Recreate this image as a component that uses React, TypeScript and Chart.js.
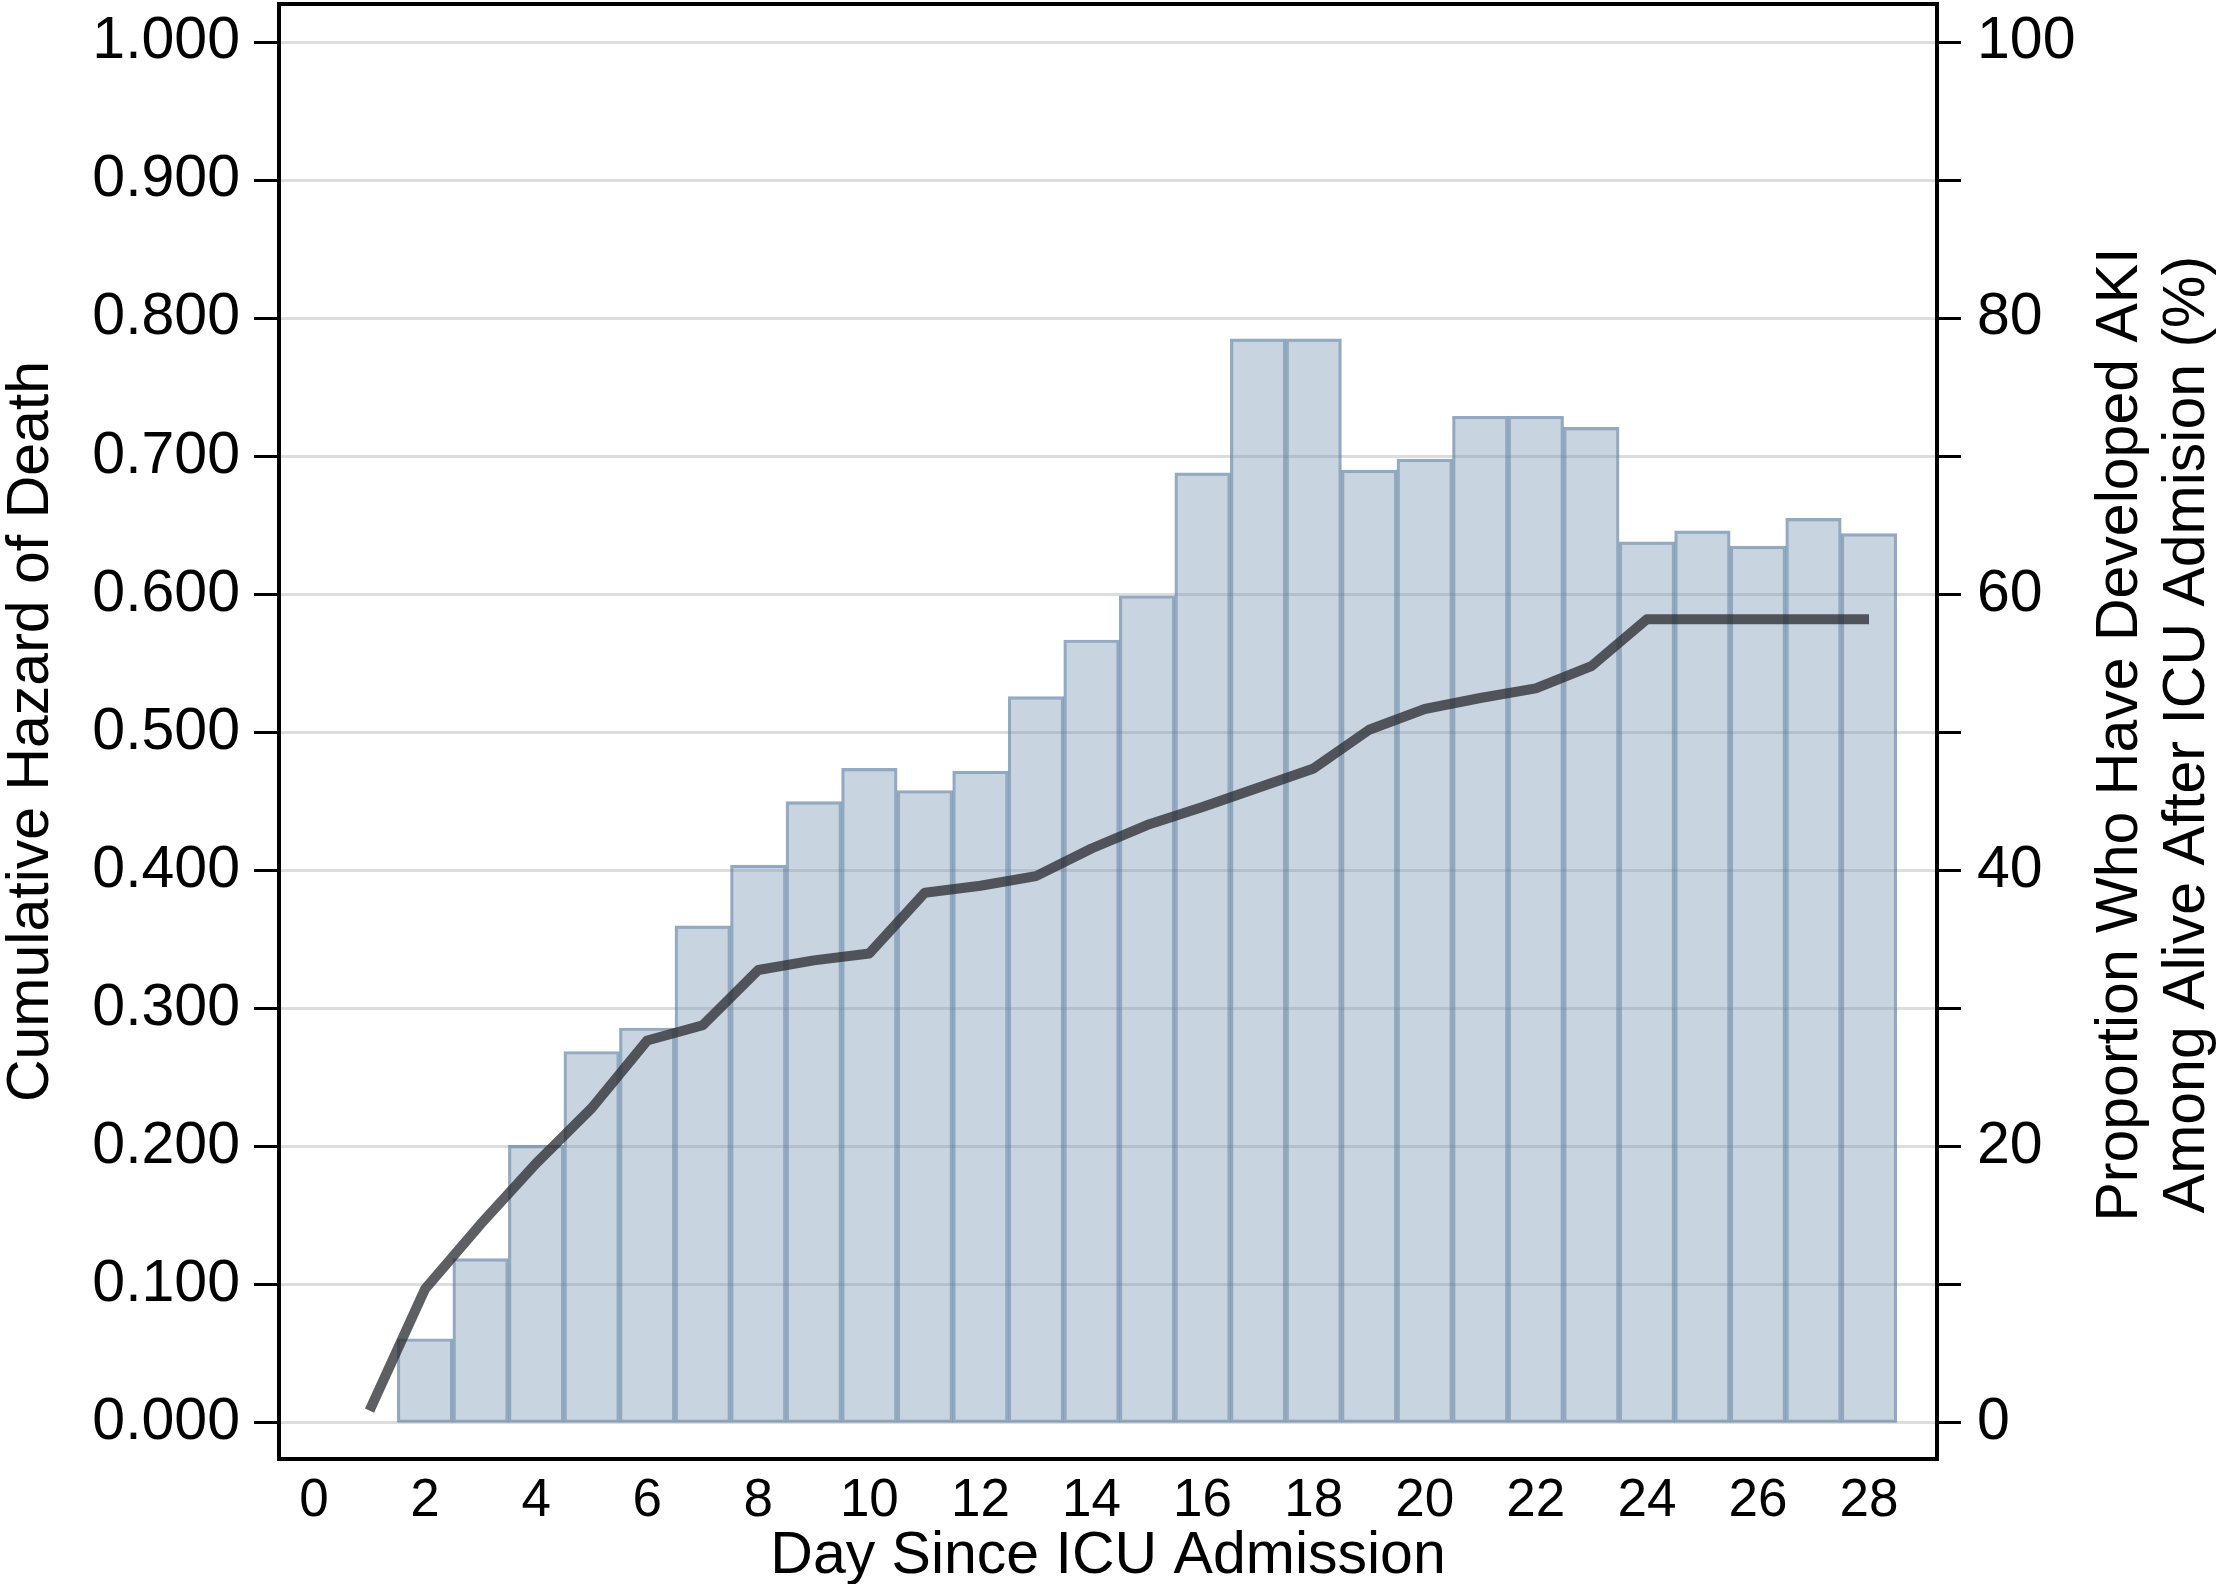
import React, { useEffect, useRef } from 'react';
import { Chart, registerables } from 'chart.js';

Chart.register(...registerables);

// ---- Data ----
const LINE_DAYS = [1, 2, 3, 4, 5, 6, 7, 8, 9, 10, 11, 12, 13, 14, 15, 16, 17, 18, 19, 20, 21, 22, 23, 24, 25, 26, 27, 28];
const CUM_HAZARD = [0.009, 0.097, 0.144, 0.188, 0.228, 0.277, 0.288, 0.328, 0.335, 0.340, 0.384, 0.389, 0.396, 0.416, 0.433, 0.446, 0.460, 0.474, 0.502, 0.517, 0.525, 0.532, 0.548, 0.582, 0.582, 0.582, 0.582, 0.582];

const BAR_DAYS = [2, 3, 4, 5, 6, 7, 8, 9, 10, 11, 12, 13, 14, 15, 16, 17, 18, 19, 20, 21, 22, 23, 24, 25, 26, 27, 28];
const AKI_PCT = [6.1, 11.9, 20.1, 26.9, 28.6, 36.0, 40.4, 45.0, 47.4, 45.8, 47.2, 52.6, 56.7, 59.9, 68.8, 78.5, 78.5, 69.0, 69.8, 72.9, 72.9, 72.1, 63.8, 64.6, 63.5, 65.5, 64.4];

const X_TICKS = [0, 2, 4, 6, 8, 10, 12, 14, 16, 18, 20, 22, 24, 26, 28];
const Y_TICKS = [0, 0.1, 0.2, 0.3, 0.4, 0.5, 0.6, 0.7, 0.8, 0.9, 1.0];
const Y2_TICKS = [0, 10, 20, 30, 40, 50, 60, 70, 80, 90, 100];
const Y2_LABELS = [0, 20, 40, 60, 80, 100];

const X_TITLE = 'Day Since ICU Admission';
const Y_TITLE = 'Cumulative Hazard of Death';
const Y2_TITLE = ['Proportion Who Have Developed AKI', 'Among Alive After ICU Admision (%)'];

const FONT = "'Liberation Sans', Arial, Helvetica, sans-serif";

const framePlugin = {
  id: 'frameAndRightTitle',
  afterDatasetsDraw(chart: any) {
    const { ctx, chartArea: a } = chart;
    ctx.save();
    ctx.strokeStyle = '#000';
    ctx.lineWidth = 4;
    ctx.strokeRect(a.left, a.top, a.right - a.left, a.bottom - a.top);
    ctx.restore();
  },
  afterDraw(chart: any) {
    const { ctx, chartArea: a } = chart;
    const cy = (a.top + a.bottom) / 2 + 3;
    ctx.save();
    ctx.fillStyle = '#000';
    ctx.font = `59px ${FONT}`;
    ctx.textAlign = 'center';
    ctx.textBaseline = 'middle';
    const xs = [a.right + 184, a.right + 251];
    Y2_TITLE.forEach((t, i) => {
      ctx.save();
      ctx.translate(xs[i], cy);
      ctx.rotate(-Math.PI / 2);
      ctx.fillText(t, 0, 0);
      ctx.restore();
    });
    ctx.restore();
  },
};

const zeroPad = (s: any) => {
  s.paddingTop = 0;
  s.paddingBottom = 0;
  s.paddingLeft = 0;
  s.paddingRight = 0;
};

export default function App() {
  const ref = useRef<HTMLCanvasElement | null>(null);

  useEffect(() => {
    if (!ref.current) return;
    Chart.defaults.font.family = FONT;
    const chart = new Chart(ref.current, {
      type: 'bar',
      data: {
        datasets: [
          {
            type: 'line',
            label: 'Cumulative Hazard of Death',
            data: LINE_DAYS.map((d, i) => ({ x: d, y: CUM_HAZARD[i] })),
            yAxisID: 'y',
            borderColor: 'rgba(40,42,46,0.75)',
            borderWidth: 10,
            pointRadius: 0,
            tension: 0,
            borderCapStyle: 'butt',
            borderJoinStyle: 'round',
            order: 0,
          } as any,
          {
            type: 'bar',
            label: 'AKI (%)',
            data: BAR_DAYS.map((d, i) => ({ x: d, y: AKI_PCT[i] })),
            yAxisID: 'y2',
            backgroundColor: 'rgba(125,152,180,0.42)',
            borderColor: 'rgba(90,125,160,0.65)',
            borderWidth: 2.5,
            borderSkipped: false,
            barPercentage: 1,
            categoryPercentage: 1,
            order: 1,
          } as any,
        ],
      },
      options: {
        responsive: false,
        animation: false,
        devicePixelRatio: 1,
        layout: { padding: { top: 4, left: 0, right: 0, bottom: 0 } },
        plugins: { legend: { display: false }, tooltip: { enabled: false } },
        scales: {
          x: {
            type: 'linear',
            position: 'bottom',
            min: -0.63,
            max: 29.224,
            offset: false,
            afterBuildTicks: (ax: any) => {
              ax.ticks = X_TICKS.map((v) => ({ value: v }));
            },
            afterFit: (s: any) => {
              s.height = 125;
              zeroPad(s);
            },
            grid: { display: false, offset: false },
            border: { display: false },
            ticks: {
              autoSkip: false,
              maxRotation: 0,
              padding: 3,
              color: '#000',
              font: { family: FONT, size: 53 },
              callback: (v: any) => String(v),
            },
            title: {
              display: true,
              text: X_TITLE,
              color: '#000',
              font: { family: FONT, size: 59, lineHeight: 0.9 },
              padding: { top: 0, bottom: 1 },
            },
          },
          y: {
            type: 'linear',
            position: 'left',
            min: -0.02607,
            max: 1.02752,
            afterBuildTicks: (ax: any) => {
              ax.ticks = Y_TICKS.map((v) => ({ value: v }));
            },
            afterFit: (s: any) => {
              s.width = 279;
              zeroPad(s);
            },
            grid: {
              color: '#dddddd',
              lineWidth: 3,
              drawTicks: true,
              tickLength: 25,
              tickColor: '#000',
              tickWidth: 3,
            },
            border: { display: false },
            ticks: {
              padding: 14,
              color: '#000',
              font: { family: FONT, size: 59 },
              callback: (v: any) => Number(v).toFixed(3),
            },
            title: {
              display: true,
              text: Y_TITLE,
              color: '#000',
              font: { family: FONT, size: 59, lineHeight: 1 },
              padding: { top: 2, bottom: 0 },
            },
          },
          y2: {
            type: 'linear',
            position: 'right',
            min: -2.607,
            max: 102.752,
            afterBuildTicks: (ax: any) => {
              ax.ticks = Y2_TICKS.map((v) => ({ value: v }));
            },
            afterFit: (s: any) => {
              s.width = 280;
              zeroPad(s);
            },
            grid: {
              drawOnChartArea: false,
              drawTicks: true,
              tickLength: 24,
              tickColor: '#000',
              tickWidth: 3,
            },
            border: { display: false },
            ticks: {
              padding: 16,
              color: '#000',
              font: { family: FONT, size: 59 },
              callback: (v: any) => (Y2_LABELS.includes(Number(v)) ? String(v) : ''),
            },
          },
        },
      } as any,
      plugins: [framePlugin],
    });
    return () => chart.destroy();
  }, []);

  return (
    <div style={{ position: 'absolute', left: 0, top: 0, width: 2217, height: 1584, background: '#fff' }}>
      <canvas ref={ref} width={2217} height={1584} style={{ display: 'block', width: 2217, height: 1584 }} />
    </div>
  );
}
